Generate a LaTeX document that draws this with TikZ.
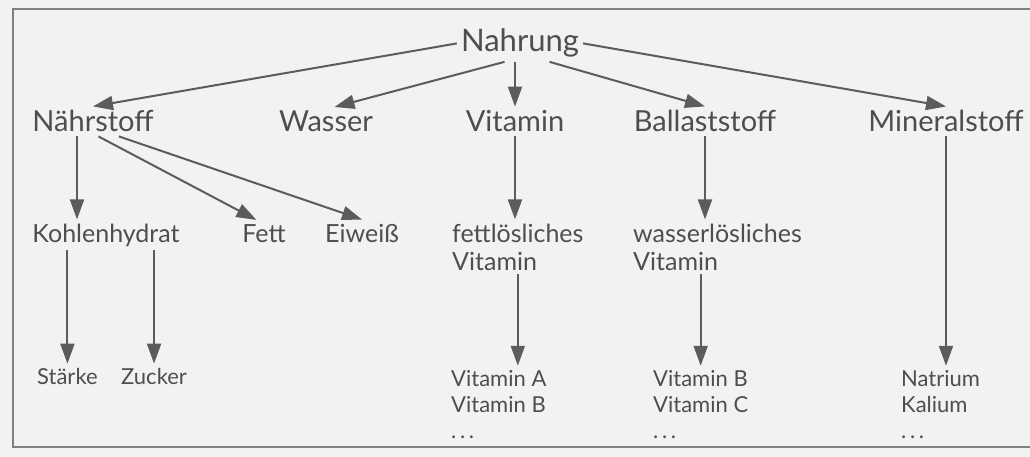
\documentclass[tikz,border=0pt]{standalone}
\usepackage{fontspec}
\setmainfont{Lato}
\usetikzlibrary{arrows.meta,positioning}
\definecolor{schrift}{RGB}{78,78,78}
\definecolor{linie}{RGB}{92,92,92}
\definecolor{papier}{RGB}{242,242,240}
\tikzset{
    pfeil/.style={
        line width=2pt,
        linie,
        -{Triangle[length=20pt, width=14pt]}
    },
    rahmen/.style={line width=1.6pt, gray},
    ebeneeins/.style={font=\fontsize{29}{32}\selectfont, text=schrift, inner sep=4pt},
    ebenezwei/.style={font=\fontsize{25}{28}\selectfont, text=schrift, inner sep=4pt},
    ebenedrei/.style={font=\fontsize{22}{26}\selectfont, text=schrift, inner sep=4pt}
}
\begin{document}
\begin{tikzpicture}[x=1pt, y=-1pt]
    \useasboundingbox[fill=papier] (0,0) rectangle (1030,457);
    \draw[rahmen] (1030,9) -- (13,9) -- (13,447) -- (1030,447);

    \node[ebeneeins, font=\fontsize{31}{34}\selectfont, anchor=base] (nahrung) at (520,52) {Nahrung};

    \node[ebeneeins, anchor=base] (naehrstoff) at (93,132) {Nährstoff};
    \node[ebeneeins, anchor=base] (wasser) at (326,132) {Wasser};
    \node[ebeneeins, anchor=base] (vitamin) at (515,132) {Vitamin};
    \node[ebeneeins, anchor=base] (ballast) at (705,132) {Ballaststoff};
    \node[ebeneeins, anchor=base] (mineral) at (946,132) {Mineralstoff};

    \node[ebenezwei, anchor=base] (kohlen) at (106,242) {Kohlenhydrat};
    \node[ebenezwei, anchor=base] (fett) at (264,242) {Fett};
    \node[ebenezwei, anchor=base] (eiweiss) at (362,242) {Eiweiß};
    \node[ebenezwei, anchor=base west, align=left] (fettvit) at (448,270) {fettlösliches\\Vitamin};
    \node[ebenezwei, anchor=base west, align=left] (wasservit) at (629,270) {wasserlösliches\\Vitamin};

    \node[ebenedrei, anchor=base west] (staerke) at (33,384) {Stärke};
    \node[ebenedrei, anchor=base west] (zucker) at (117,384) {Zucker};
    \node[ebenedrei, anchor=base west, align=left] (vita) at (447,438) {Vitamin A\\Vitamin B\\.\,.\,.};
    \node[ebenedrei, anchor=base west, align=left] (vitb) at (649,438) {Vitamin B\\Vitamin C\\.\,.\,.};
    \node[ebenedrei, anchor=base west, align=left] (natrium) at (897,438) {Natrium\\Kalium\\.\,.\,.};

    \draw[pfeil] (nahrung.west) -- (naehrstoff.north);
    \draw[pfeil] (nahrung.230) -- (wasser.60);
    \draw[pfeil] (vitamin.north |- nahrung.south) -- (vitamin.north);
    \draw[pfeil] (nahrung.328) -- (ballast.north);
    \draw[pfeil] (nahrung.east) -- (mineral.north);

    \draw[pfeil] ([xshift=-16pt]naehrstoff.south) -- ([xshift=-16pt]naehrstoff.south |- kohlen.north);
    \draw[pfeil] (naehrstoff.290) -- (fett.120);
    \draw[pfeil] (naehrstoff.330) -- (eiweiss.north);
    \draw[pfeil] (vitamin.south) -- (vitamin.south |- fettvit.north);
    \draw[pfeil] (ballast.south) -- (ballast.south |- wasservit.north);
    \draw[pfeil] (mineral.south) -- (mineral.south |- natrium.north);

    \draw[pfeil] (staerke.north |- kohlen.south) -- (staerke.north);
    \draw[pfeil] (zucker.north |- kohlen.south) -- (zucker.north);
    \draw[pfeil] (fettvit.south) -- (fettvit.south |- vita.north);
    \draw[pfeil] (vitb.north |- wasservit.south) -- (vitb.north);
\end{tikzpicture}
\end{document}
